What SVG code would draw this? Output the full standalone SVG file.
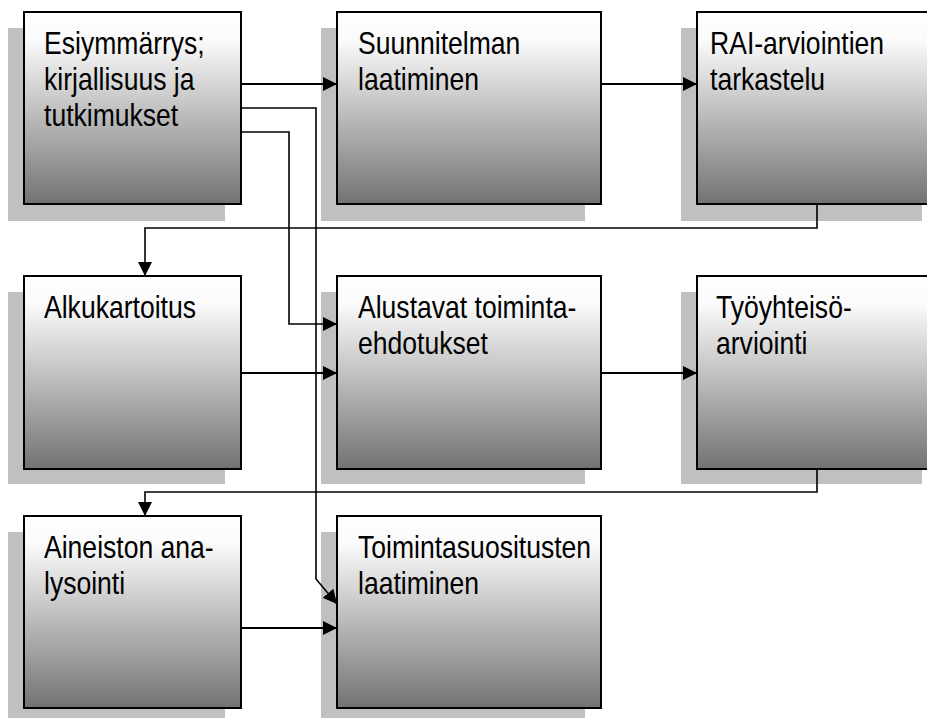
<svg xmlns="http://www.w3.org/2000/svg" width="927" height="718" viewBox="0 0 927 718">
<defs>
<linearGradient id="g" x1="0" y1="0" x2="0" y2="1">
<stop offset="0" stop-color="#ffffff"/>
<stop offset="0.15" stop-color="#fafafa"/>
<stop offset="1" stop-color="#727272"/>
</linearGradient>
<marker id="ah" markerUnits="userSpaceOnUse" markerWidth="16" markerHeight="16" refX="14" refY="7" orient="auto">
<path d="M0,0 L14,7 L0,14 z" fill="#000"/>
</marker>
<style>
.sh{fill:#c0c0c0;stroke:none}
.bx{fill:url(#g);stroke:#000;stroke-width:2}
.t{font-family:"Liberation Sans",Arial,sans-serif;font-size:32px;fill:#000}
.c{fill:none;stroke:#000;stroke-width:2;marker-end:url(#ah)}
.c2{fill:none;stroke:#000;stroke-width:1.6;marker-end:url(#ah)}
</style>
</defs>
<rect width="927" height="718" fill="#fff"/>

<g id="n1">
<rect class="sh" x="8" y="28" width="217" height="193"/>
<rect class="bx" x="24" y="12" width="217" height="192"/>
<text class="t" transform="translate(44,54) scale(0.83,1)"><tspan x="0" y="0">Esiymmärrys;</tspan><tspan x="0" y="36">kirjallisuus ja</tspan><tspan x="0" y="72">tutkimukset</tspan></text>
</g>
<g id="n2">
<rect class="sh" x="321" y="28" width="264" height="193"/>
<rect class="bx" x="337" y="12" width="264" height="192"/>
<text class="t" transform="translate(358,54) scale(0.83,1)"><tspan x="0" y="0">Suunnitelman</tspan><tspan x="0" y="36">laatiminen</tspan></text>
</g>
<g id="n3">
<rect class="sh" x="681" y="28" width="241" height="193"/>
<rect class="bx" x="697" y="12" width="241" height="192"/>
<text class="t" transform="translate(710,54) scale(0.83,1)"><tspan x="0" y="0">RAI-arviointien</tspan><tspan x="0" y="36">tarkastelu</tspan></text>
</g>
<g id="n4">
<rect class="sh" x="8" y="292" width="217" height="192"/>
<rect class="bx" x="24" y="276" width="217" height="193"/>
<text class="t" transform="translate(44,318) scale(0.83,1)"><tspan x="0" y="0">Alkukartoitus</tspan></text>
</g>
<g id="n5">
<rect class="sh" x="321" y="292" width="264" height="192"/>
<rect class="bx" x="337" y="276" width="264" height="193"/>
<text class="t" transform="translate(358,318) scale(0.83,1)"><tspan x="0" y="0">Alustavat toiminta-</tspan><tspan x="0" y="36">ehdotukset</tspan></text>
</g>
<g id="n6">
<rect class="sh" x="681" y="292" width="241" height="192"/>
<rect class="bx" x="697" y="276" width="241" height="193"/>
<text class="t" transform="translate(716,318) scale(0.83,1)"><tspan x="0" y="0">Työyhteisö-</tspan><tspan x="0" y="36">arviointi</tspan></text>
</g>
<g id="n7">
<rect class="sh" x="8" y="532" width="217" height="192"/>
<rect class="bx" x="24" y="516" width="217" height="192"/>
<text class="t" transform="translate(44,558) scale(0.83,1)"><tspan x="0" y="0">Aineiston ana-</tspan><tspan x="0" y="36">lysointi</tspan></text>
</g>
<g id="n8">
<rect class="sh" x="321" y="532" width="264" height="192"/>
<rect class="bx" x="337" y="516" width="264" height="192"/>
<text class="t" transform="translate(358,558) scale(0.83,1)"><tspan x="0" y="0">Toimintasuositusten</tspan><tspan x="0" y="36">laatiminen</tspan></text>
</g>

<g id="connectors">
<path class="c" d="M241,84 H337"/>
<path class="c" d="M601,84 H697"/>
<path class="c2" d="M817,204 V228 H145 V276"/>
<path class="c2" d="M241,108 H316 V579 L337,604"/>
<path class="c2" d="M241,132 H289 V324 H337"/>
<path class="c" d="M241,373 H337"/>
<path class="c" d="M601,373 H697"/>
<path class="c2" d="M817,469 V492 H145 V516"/>
<path class="c" d="M241,628 H337"/>
</g>
</svg>
